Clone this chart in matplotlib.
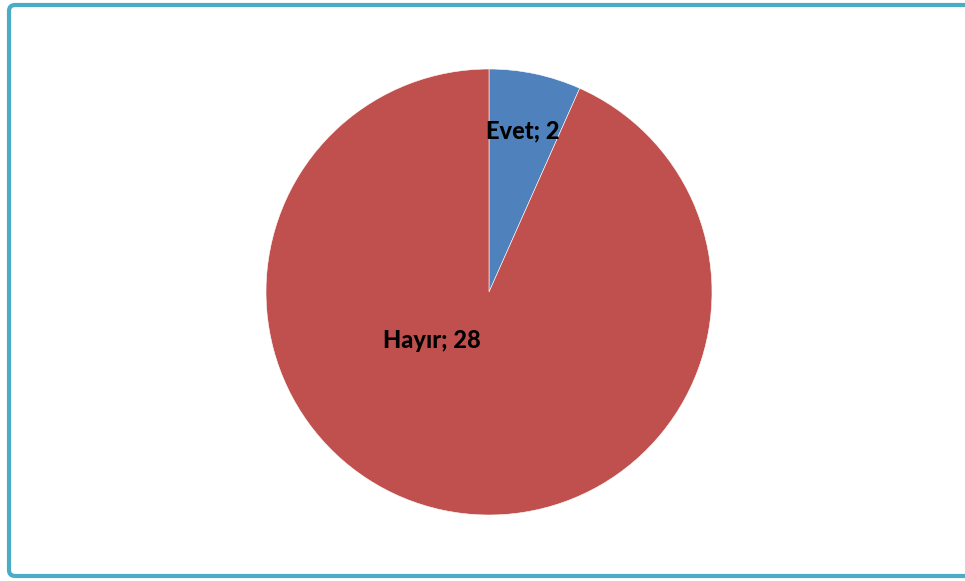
import matplotlib.pyplot as plt
from matplotlib.patches import FancyBboxPatch

# survey answers
labels = ["Evet", "Hayır"]
counts = [2, 28]
colors = ["#4F81BD", "#C0504D"]

W, H = 965, 581
fig = plt.figure(figsize=(W / 100, H / 100), dpi=100)
ax = fig.add_axes([0, 0, 1, 1])
ax.set_xlim(0, W)
ax.set_ylim(0, H)
ax.set_aspect("equal")
ax.axis("off")

cx, cy, r = 489, H - 292, 223
wedges, _ = ax.pie(counts, colors=colors, startangle=90, counterclock=False,
                   center=(cx, cy), radius=r,
                   wedgeprops=dict(edgecolor="white", linewidth=0.4))
ax.set_xlim(0, W)
ax.set_ylim(0, H)

# data labels like "Evet; 2"
label_pos = [(523, H - 131), (432, H - 340)]
for name, val, (x, y) in zip(labels, counts, label_pos):
    ax.text(x, y, f"{name}; {val}", ha="center", va="center",
            fontsize=17, fontweight=900, family="Lato", color="black")

# chart area frame, open on the right edge
frame = FancyBboxPatch((9, 5), W + 20, H - 10,
                       boxstyle="round,pad=0,rounding_size=6",
                       linewidth=3, edgecolor="#4BACC6", facecolor="none",
                       clip_on=False)
ax.add_patch(frame)

fig.savefig("out.png", dpi=100)
